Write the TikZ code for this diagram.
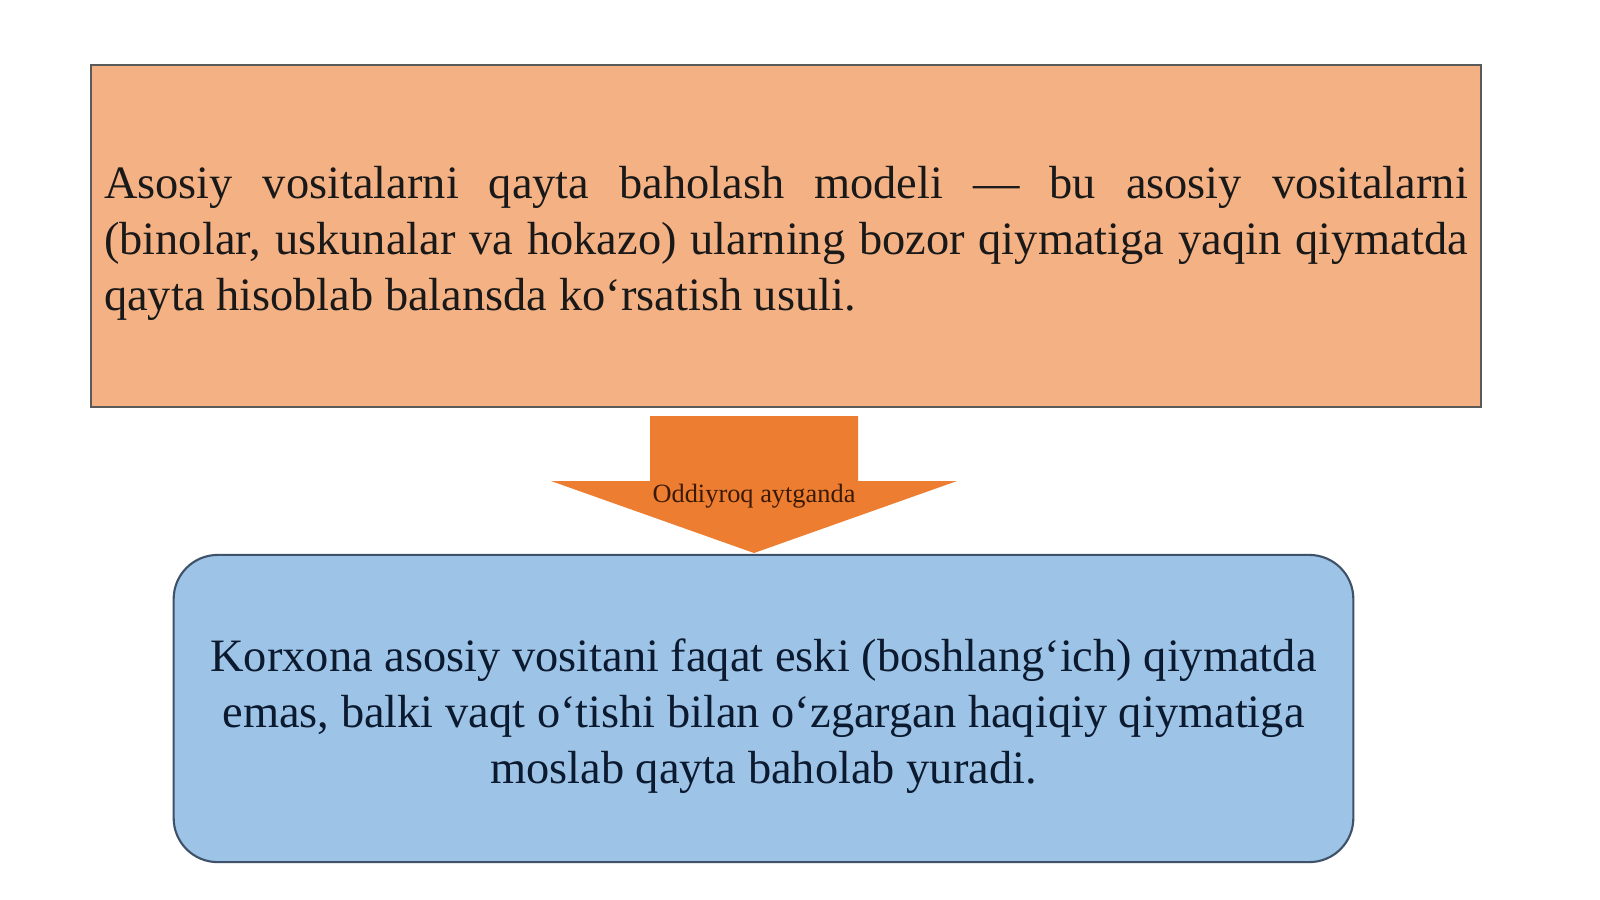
\documentclass[tikz,border=0pt]{standalone}
\usepackage{fontspec}
\setmainfont{Liberation Serif}
\usepackage{tikz}

\definecolor{peach}{RGB}{244,177,131}
\definecolor{peachline}{RGB}{90,90,90}
\definecolor{arroworange}{RGB}{237,125,49}
\definecolor{skyblue}{RGB}{157,195,230}
\definecolor{skyline}{RGB}{63,82,105}
\definecolor{navytext}{RGB}{12,26,48}
\definecolor{browntext}{RGB}{59,26,5}

\hyphenpenalty=10000
\exhyphenpenalty=10000
% spaces stretch but never shrink, as in the slide
\newcommand\slidespaces{\spaceskip=3.3pt plus 6pt\relax}
% a taller first line sets the text a little lower in its box
\newcommand\dropfirstline{\rule{0pt}{1.03em}}

\begin{document}
\begin{tikzpicture}[x=0.01cm,y=-0.01cm,
        slidefont/.style={font=\fontsize{13.2pt}{15.9pt}\selectfont},
        defbox/.style={slidefont, draw=peachline, line width=0.6pt, fill=peach,
            minimum width=13.9cm, minimum height=3.42cm,
            inner xsep=0.135cm, inner ysep=0pt, text width=13.63cm, align=justify,
            text=black!90, execute at begin node={\slidespaces\dropfirstline}},
        simplebox/.style={slidefont, draw=skyline, line width=0.6pt, fill=skyblue,
            rounded corners=0.44cm,
            minimum width=11.79cm, minimum height=3.07cm,
            inner xsep=0.195cm, inner ysep=0pt, text width=11.4cm, align=flush center,
            text=navytext, execute at begin node=\dropfirstline},
        arrowlabel/.style={font=\fontsize{7.5pt}{9pt}\selectfont, text=browntext, inner sep=0pt}
    ]
        \useasboundingbox (0,0) rectangle (1600,899);
        \fill[white] (0,0) rectangle (1600,899);

        % definition
        \node[defbox] (model) at (786,236)
            {Asosiy vositalarni qayta baholash modeli — bu asosiy vositalarni (binolar, uskunalar va hokazo) ularning bozor qiymatiga yaqin qiymatda qayta hisoblab balansda ko‘rsatish usuli.};

        % block arrow
        \fill[arroworange] (650,416) -- (858,416) -- (858,481) -- (957,481)
            -- (754,553) -- (551,481) -- (650,481) -- cycle;
        \node[arrowlabel] (simply) at (754,496) {Oddiyroq aytganda};

        % plain words
        \node[simplebox] (meaning) at (763.5,708.5)
            {Korxona asosiy vositani faqat eski (boshlang‘ich) qiymatda\\
             emas, balki vaqt o‘tishi bilan o‘zgargan haqiqiy qiymatiga\\
             moslab qayta baholab yuradi.};
    \end{tikzpicture}
\end{document}
